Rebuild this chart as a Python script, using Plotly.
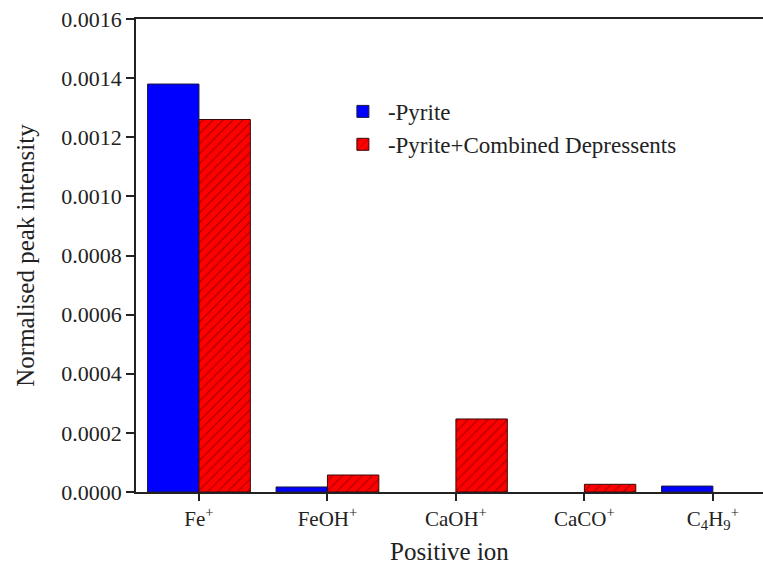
import plotly.graph_objects as go

categories = ["Fe<sup>+</sup>", "FeOH<sup>+</sup>", "CaOH<sup>+</sup>", "CaCO<sup>+</sup>", "C<sub>4</sub>H<sub>9</sub><sup>+</sup>"]
pyrite = [0.00138, 0.000017, None, None, 0.00002]
pyrite_combined = [0.00126, 0.0000575, 0.000247, 0.000026, None]
y_ticks = [0.0, 0.0002, 0.0004, 0.0006, 0.0008, 0.0010, 0.0012, 0.0014, 0.0016]

font_family = "Liberation Serif, Times New Roman, serif"

fig = go.Figure()
fig.add_trace(go.Bar(
    x=categories, y=pyrite, name="-Pyrite",
    marker=dict(color="#0000FF", line=dict(color="#1a1a40", width=1)),
))
fig.add_trace(go.Bar(
    x=categories, y=pyrite_combined, name="-Pyrite+Combined Depressents",
    marker=dict(color="#FF0000", line=dict(color="#3a0a0a", width=1),
                pattern=dict(shape="/", fgcolor="#3a0000", bgcolor="#FF0000",
                             size=7, solidity=0.15)),
))

fig.update_layout(
    width=763, height=572,
    margin=dict(l=136, r=0, t=19, b=80),
    paper_bgcolor="white", plot_bgcolor="white",
    barmode="group", bargap=0.2, bargroupgap=0.0,
    font=dict(family=font_family, size=22, color="#222"),
    showlegend=True,
    legend=dict(x=0.322, y=0.85, xanchor="left", yanchor="top",
                bgcolor="rgba(0,0,0,0)", font=dict(size=23, family=font_family),
                tracegroupgap=0, itemwidth=40),
    xaxis=dict(
        range=[-0.49, 4.39],
        showline=True, linecolor="#222", linewidth=1.5, mirror=True,
        ticks="outside", ticklen=7, tickcolor="#222", tickwidth=1.5,
        showgrid=False, zeroline=False,
        tickfont=dict(size=21, family=font_family),
        title=dict(text="Positive ion", font=dict(size=25, family=font_family), standoff=10),
    ),
    yaxis=dict(
        range=[0, 0.0016],
        tickvals=y_ticks, tickformat=".4f",
        showline=True, linecolor="#222", linewidth=1.5,
        ticks="outside", ticklen=8, tickcolor="#222", tickwidth=1.5,
        showgrid=False, zeroline=False,
        tickfont=dict(size=22, family=font_family),
        title=dict(text="Normalised peak intensity", font=dict(size=25, family=font_family), standoff=20),
    ),
)

fig.write_html("out.html")
